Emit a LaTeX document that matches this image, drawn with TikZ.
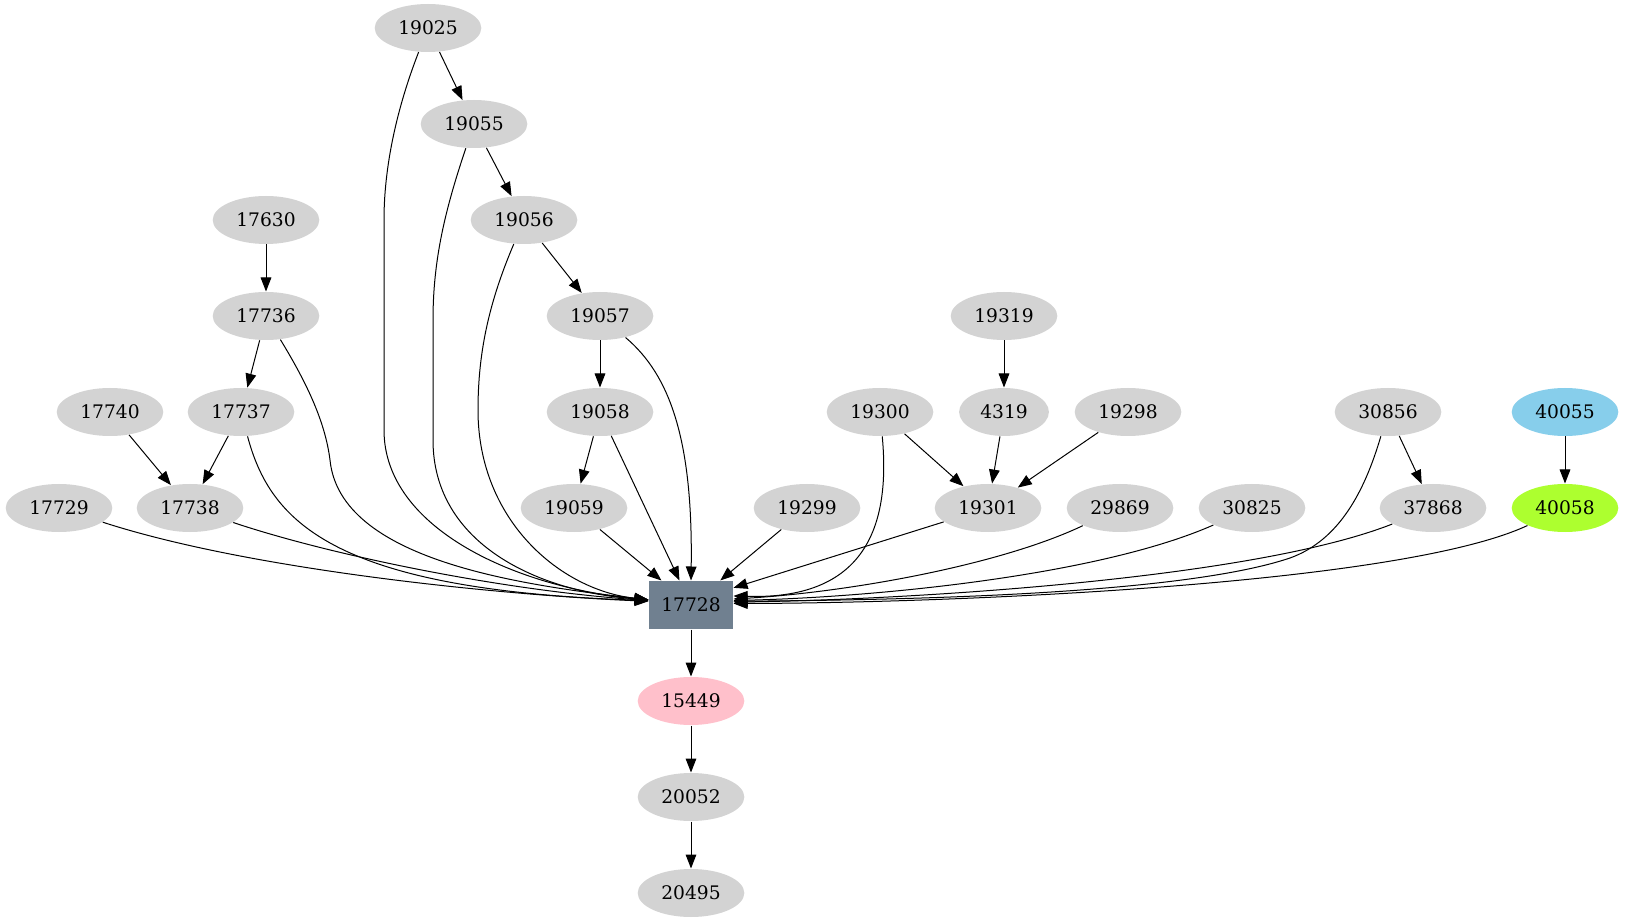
\documentclass[tikz,border=0pt]{standalone}
\usepackage{fontspec}
\setmainfont{DejaVu Serif}
\usepackage{tikz}
\usetikzlibrary{arrows.meta,shapes.geometric}
\definecolor{nodegray}{HTML}{D3D3D3}
\definecolor{nodeslate}{HTML}{708090}
\definecolor{nodepink}{HTML}{FFC0CB}
\definecolor{nodesky}{HTML}{87CEEB}
\definecolor{nodelime}{HTML}{ADFF2F}

\begin{document}
\begin{tikzpicture}[x=0.75pt,y=-0.75pt,
  >={Triangle[length=10.5pt,width=8pt]}, line width=0.75pt,
  every node/.style={ellipse,fill=nodegray,inner xsep=6pt,inner ysep=0pt,
    minimum width=54pt,minimum height=36pt,font=\fontsize{14pt}{16pt}\selectfont}]

  % Canvas
  \fill[white] (0,0) rectangle (1625,923);

  % Upper ranks
  \node (n19025) at (428,28) {19025};
  \node (n19055) at (474,124) {19055};
  \node (n19056) at (524,220) {19056};
  \node (n17630) at (266,220) {17630};
  \node (n17736) at (266,316) {17736};
  \node (n19057) at (600,316) {19057};
  \node (n19319) at (1004,316) {19319};
  \node (n17740) at (110,412) {17740};
  \node (n17737) at (241,412) {17737};
  \node (n19058) at (600,412) {19058};
  \node (n19300) at (880,412) {19300};
  \node (n4319) at (1004,412) {4319};
  \node (n19298) at (1128,412) {19298};
  \node (n30856) at (1388,412) {30856};
  \node[fill=nodesky] (n40055) at (1565,412) {40055};
  \node (n17729) at (59,508) {17729};
  \node (n17738) at (190,508) {17738};
  \node (n19059) at (574,508) {19059};
  \node (n19299) at (807,508) {19299};
  \node (n19301) at (988,508) {19301};
  \node (n29869) at (1120,508) {29869};
  \node (n30825) at (1252,508) {30825};
  \node (n37868) at (1433,508) {37868};
  \node[fill=nodelime] (n40058) at (1565,508) {40058};

  % Centre and lower chain
  \node[rectangle,fill=nodeslate,minimum width=63pt] (n17728) at (691,605) {17728};
  \node[fill=nodepink] (n15449) at (691,701) {15449};
  \node (n20052) at (691,797) {20052};
  \node (n20495) at (691,893) {20495};

  % Straight edges
  \draw[->] (n19025) -- (n19055);
  \draw[->] (n19055) -- (n19056);
  \draw[->] (n19056) -- (n19057);
  \draw[->] (n17630) -- (n17736);
  \draw[->] (n17736) -- (n17737);
  \draw[->] (n19057) -- (n19058);
  \draw[->] (n17740) -- (n17738);
  \draw[->] (n17737) -- (n17738);
  \draw[->] (n19058) -- (n19059);
  \draw[->] (n19319) -- (n4319);
  \draw[->] (n19300) -- (n19301);
  \draw[->] (n4319) -- (n19301);
  \draw[->] (n19298) -- (n19301);
  \draw[->] (n30856) -- (n37868);
  \draw[->] (n40055) -- (n40058);
  \draw[->] (n17728) -- (n15449);
  \draw[->] (n15449) -- (n20052);
  \draw[->] (n20052) -- (n20495);

  % Edges into 17728 from the left
  \draw[->] (n19025) .. controls (400,100) and (384,160) .. (384,220) -- (384,430)
    .. controls (384,530) and (520,588) .. (n17728.173);
  \draw[->] (n19055) .. controls (445,210) and (433,260) .. (433,320) -- (433,440)
    .. controls (433,545) and (540,592) .. (n17728.173);
  \draw[->] (n19056) .. controls (490,300) and (478,350) .. (478,410)
    .. controls (478,520) and (560,590) .. (n17728.173);
  \draw[->] (n17736) .. controls (305,380) and (325,420) .. (330,460)
    .. controls (340,560) and (520,585) .. (n17728.173);
  \draw[->] (n17737) .. controls (270,520) and (330,590) .. (n17728.174);
  \draw[->] (n17738) .. controls (330,555) and (500,590) .. (n17728.174);
  \draw[->] (n17729) .. controls (250,570) and (500,595) .. (n17728.175);

  % Edges into 17728 from above
  \draw[->] (n19057) .. controls (670,375) and (693,440) .. (n17728.north);
  \draw[->] (n19058) -- (n17728);
  \draw[->] (n19059) -- (n17728);
  \draw[->] (n19299) -- (n17728);

  % Edges into 17728 from the right
  \draw[->] (n19301) -- (n17728.22);
  \draw[->] (n19300) .. controls (890,520) and (870,600) .. (n17728.12);
  \draw[->] (n29869) .. controls (1000,565) and (850,592) .. (n17728.8);
  \draw[->] (n30825) .. controls (1100,575) and (880,597) .. (n17728.6);
  \draw[->] (n30856) .. controls (1365,490) and (1340,540) .. (1290,558)
    .. controls (1180,595) and (900,600) .. (n17728.5);
  \draw[->] (n37868) .. controls (1250,580) and (900,600) .. (n17728.4);
  \draw[->] (n40058) .. controls (1400,585) and (950,603) .. (n17728.2);
\end{tikzpicture}
\end{document}
